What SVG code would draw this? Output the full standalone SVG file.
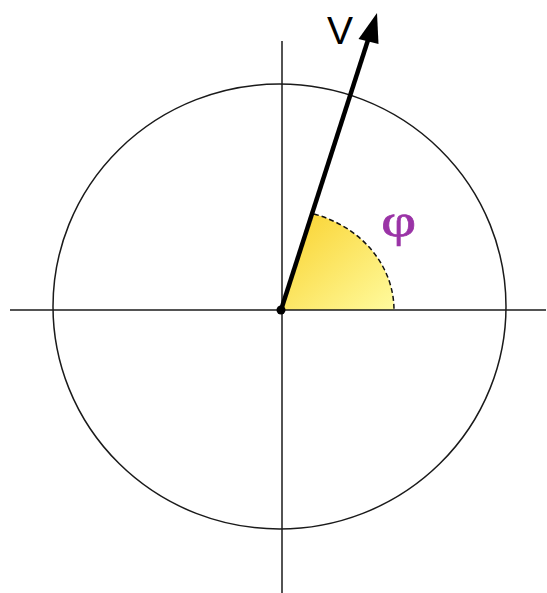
<svg xmlns="http://www.w3.org/2000/svg" width="547" height="593" viewBox="0 0 547 593">
<style>
.thin{stroke:#1a1a1a;stroke-width:1.5;fill:none}
</style>
<defs>
<linearGradient id="yg" x1="0" y1="0" x2="1" y2="1">
<stop offset="0" stop-color="#f9d12c"/>
<stop offset="1" stop-color="#fffb9e"/>
</linearGradient>
</defs>
<rect width="547" height="593" fill="#fff"/>
<g id="circle">
<ellipse class="thin" cx="279.5" cy="306.5" rx="226.5" ry="222.5"/>
</g>
<g id="angle">
<path d="M281,310 L314,214 A113,100.4 0 0 1 394,310 Z" fill="url(#yg)"/>
<path d="M314,214 A113,100.4 0 0 1 394,310" fill="none" stroke="#111" stroke-width="1.5" stroke-dasharray="5,3"/>
</g>
<g id="axes">
<line class="thin" x1="10" y1="310" x2="546" y2="310"/>
<line class="thin" x1="282" y1="41" x2="282" y2="593"/>
</g>
<g id="vector">
<line x1="281" y1="310" x2="368" y2="40" stroke="#000" stroke-width="4.5"/>
<polygon points="377,13 358.5,39 378.5,44" fill="#000"/>
<circle cx="281" cy="310" r="4.5" fill="#000"/>
</g>
<g id="labels">
<text x="327" y="44" font-family="Liberation Sans, Arial, sans-serif" font-size="39" fill="#000">V</text>
<text transform="translate(381,236) scale(1.3,1)" x="0" y="0" font-family="Liberation Serif, serif" font-size="47" fill="#9a33a6" stroke="#9a33a6" stroke-width="0.6">φ</text>
</g>
</svg>
